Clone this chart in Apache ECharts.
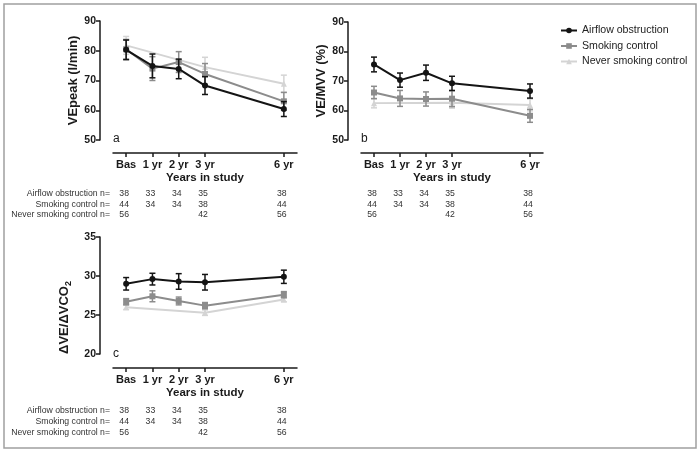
<!DOCTYPE html>
<html>
<head>
<meta charset="utf-8">
<script src="https://cdn.jsdelivr.net/npm/echarts@6/dist/echarts.min.js"></script>
<style>
html,body{margin:0;padding:0;background:#fff;}
#c{width:700px;height:452px;}
</style>
</head>
<body>
<div id="c"></div>
<script>
// ---- data ----
var seriesNames = ['Airflow obstruction', 'Smoking control', 'Never smoking control'];
var yearsAll = [0, 1, 2, 3, 6];
var yearsNever = [0, 3, 6];
var tickLabels = ['Bas', '1 yr', '2 yr', '3 yr', '6 yr'];

// Panel a: VEpeak (l/min)
var veAO = [80.3, 74.9, 73.9, 68.3, 60.4];
var veAOErr = [3.3, 4.0, 3.3, 3.0, 2.5];
var veSC = [80.5, 74.0, 76.2, 72.2, 63.0];
var veSCErr = [3.3, 4.0, 3.5, 3.5, 3.0];
var veNS = [81.8, 74.5, 68.9];
var veNSErr = [3.0, 3.3, 2.9];

// Panel b: VE/MVV (%)
var mvvAO = [75.6, 70.3, 72.8, 69.2, 66.6];
var mvvAOErr = [2.5, 2.4, 2.6, 2.4, 2.4];
var mvvSC = [66.1, 64.1, 63.9, 64.0, 58.2];
var mvvSCErr = [2.1, 2.7, 2.4, 2.7, 2.2];
var mvvNS = [62.5, 62.6, 61.9];
var mvvNSErr = [1.6, 1.8, 2.0];

// Panel c: dVE/dVCO2
var co2AO = [29.0, 29.6, 29.3, 29.2, 29.9];
var co2AOErr = [0.8, 0.75, 1.0, 1.0, 0.85];
var co2SC = [26.7, 27.4, 26.8, 26.2, 27.6];
var co2SCErr = [0.4, 0.7, 0.5, 0.4, 0.4];
var co2NS = [26.0, 25.3, 27.0];
var co2NSErr = [0.3, 0.35, 0.3];

// n per group
var nAO = [38, 33, 34, 35, 38];
var nSC = [44, 34, 34, 38, 44];
var nNS = [56, 42, 56];
var nLabels = ['Airflow obstruction n=', 'Smoking control n=', 'Never smoking control n='];

// ---- styles ----
var colors = ['#141414', '#8c8c8c', '#d4d4d4'];
var symbols = ['circle', 'rect', 'triangle'];
var FONT = 'Liberation Sans, Arial, sans-serif';

function pairs(xs, ys) { return xs.map(function (x, i) { return [x, ys[i]]; }); }
function errs(xs, ys, es) { return xs.map(function (x, i) { return [x, ys[i] - es[i], ys[i] + es[i]]; }); }

function errRender(color) {
  return function (params, api) {
    var x = api.value(0);
    var lo = api.coord([x, api.value(1)]);
    var hi = api.coord([x, api.value(2)]);
    var w = 3;
    var st = { stroke: color, lineWidth: 1.5 };
    return {
      type: 'group',
      children: [
        { type: 'line', shape: { x1: lo[0], y1: lo[1], x2: hi[0], y2: hi[1] }, style: st },
        { type: 'line', shape: { x1: lo[0] - w, y1: lo[1], x2: lo[0] + w, y2: lo[1] }, style: st },
        { type: 'line', shape: { x1: hi[0] - w, y1: hi[1], x2: hi[0] + w, y2: hi[1] }, style: st }
      ]
    };
  };
}

var panels = [
  { ys: [veAO, veSC, veNS], es: [veAOErr, veSCErr, veNSErr] },
  { ys: [mvvAO, mvvSC, mvvNS], es: [mvvAOErr, mvvSCErr, mvvNSErr] },
  { ys: [co2AO, co2SC, co2NS], es: [co2AOErr, co2SCErr, co2NSErr] }
];

var series = [];
panels.forEach(function (p, pi) {
  for (var k = 2; k >= 0; k--) {
    var xs = k === 2 ? yearsNever : yearsAll;
    series.push({
      type: 'custom',
      name: 'err' + pi + '_' + k,
      xAxisIndex: pi, yAxisIndex: pi,
      renderItem: errRender(colors[k]),
      data: errs(xs, p.ys[k], p.es[k]),
      z: 2 + (2 - k) * 2,
      silent: true
    });
    series.push({
      type: 'line',
      name: seriesNames[k],
      xAxisIndex: pi, yAxisIndex: pi,
      data: pairs(xs, p.ys[k]),
      symbol: symbols[k],
      symbolSize: 6,
      showSymbol: true,
      lineStyle: { color: colors[k], width: 2 },
      itemStyle: { color: colors[k] },
      z: 3 + (2 - k) * 2,
      animation: false
    });
  }
});

function xAxis(gi) {
  return {
    type: 'value', gridIndex: gi, min: -0.5, max: 6.5,
    offset: gi === 2 ? 14 : 13,
    name: 'Years in study', nameLocation: 'middle', nameGap: 19,
    nameTextStyle: { fontFamily: FONT, fontSize: 11.5, fontWeight: 'bold', color: '#1a1a1a' },
    axisLine: { show: true, onZero: false, lineStyle: { color: '#1a1a1a', width: 1.5 } },
    axisTick: { show: true, customValues: yearsAll, length: 4, lineStyle: { color: '#1a1a1a', width: 1.5 } },
    axisLabel: {
      customValues: yearsAll, margin: 6,
      fontFamily: FONT, fontSize: 11, fontWeight: 'bold', color: '#1a1a1a',
      formatter: function (v) { var i = yearsAll.indexOf(v); return i >= 0 ? tickLabels[i] : ''; }
    },
    splitLine: { show: false }
  };
}
function yAxis(gi, min, max, interval, name, gap, extra) {
  return {
    type: 'value', gridIndex: gi, min: min, max: max, interval: interval,
    offset: 13,
    name: name, nameLocation: 'middle', nameGap: gap,
    nameTextStyle: Object.assign({ fontFamily: FONT, fontSize: 13, fontWeight: 'bold', color: '#1a1a1a' }, extra || {}),
    axisLine: { show: true, onZero: false, lineStyle: { color: '#1a1a1a', width: 1.5 } },
    axisTick: { show: true, length: 4, lineStyle: { color: '#1a1a1a', width: 1.5 } },
    axisLabel: { margin: 4, fontFamily: FONT, fontSize: 10.5, fontWeight: 'bold', color: '#1a1a1a' },
    splitLine: { show: false }
  };
}

var option = {
  animation: false,
  backgroundColor: '#fff',
  textStyle: { fontFamily: FONT },
  grid: [
    { left: 113, top: 21, width: 184, height: 119 },
    { left: 361, top: 22, width: 182, height: 118 },
    { left: 113, top: 237, width: 184, height: 117 }
  ],
  xAxis: [xAxis(0), xAxis(1), xAxis(2)],
  yAxis: [
    yAxis(0, 50, 90, 10, 'VEpeak (l/min)', 20),
    yAxis(1, 50, 90, 10, 'VE/MVV (%)', 16),
    yAxis(2, 20, 35, 5, '{m|\u0394VE/\u0394VCO}{s|2}', 27, {
      padding: [0, 44, 0, 0],
      rich: {
        m: { fontFamily: FONT, fontSize: 13, fontWeight: 'bold', color: '#1a1a1a' },
        s: { fontFamily: FONT, fontSize: 9, fontWeight: 'bold', color: '#1a1a1a', padding: [8, 0, 0, 0] }
      }
    })
  ],
  legend: {
    data: seriesNames,
    orient: 'vertical', left: 555, top: 20,
    itemWidth: 16, itemHeight: 7, itemGap: 4.5,
    textStyle: { fontFamily: FONT, fontSize: 10.6, color: '#222' }
  },
  series: series,
  graphic: []
};

var chart = echarts.init(document.getElementById('c'), null, { renderer: 'canvas' });
chart.setOption(option);

// n tables, panel letters, frame
var g = [];
g.push({ type: 'rect', shape: { x: 4, y: 4, width: 692, height: 444 }, style: { fill: 'none', stroke: '#a0a0a0', lineWidth: 1.5 }, z: 0 });
var letters = [['a', 113, 139], ['b', 361, 139], ['c', 113, 354]];
letters.forEach(function (l) {
  g.push({ type: 'text', x: l[1], y: l[2], style: { text: l[0], fontFamily: FONT, fontSize: 12, fill: '#1a1a1a', textVerticalAlign: 'middle', textAlign: 'left' } });
});
var tables = [
  { axis: 0, rowsY: [194, 204.5, 215], labels: true },
  { axis: 1, rowsY: [194, 204.5, 215], labels: false },
  { axis: 2, rowsY: [411, 422, 433], labels: true }
];
var nData = [[yearsAll, nAO], [yearsAll, nSC], [yearsNever, nNS]];
tables.forEach(function (t) {
  nData.forEach(function (row, r) {
    if (t.labels) {
      g.push({ type: 'text', x: 110, y: t.rowsY[r], style: { text: nLabels[r], fontFamily: FONT, fontSize: 8.7, fill: '#333', textAlign: 'right', textVerticalAlign: 'middle' } });
    }
    row[0].forEach(function (yr, i) {
      var px = chart.convertToPixel({ xAxisIndex: t.axis }, yr);
      g.push({ type: 'text', x: px - 2, y: t.rowsY[r], style: { text: String(row[1][i]), fontFamily: FONT, fontSize: 8.7, fill: '#333', textAlign: 'center', textVerticalAlign: 'middle' } });
    });
  });
});
chart.setOption({ graphic: g });
</script>
</body>
</html>
